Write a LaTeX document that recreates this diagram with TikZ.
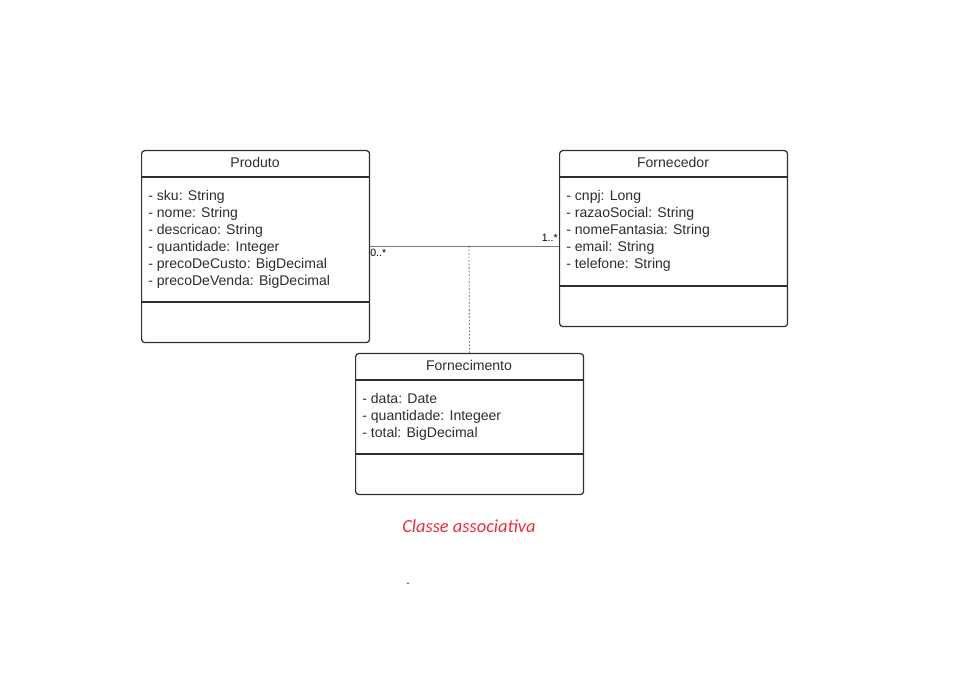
\documentclass[tikz,border=0pt]{standalone}
\usepackage{fontspec}
\setmainfont{Liberation Sans}
\newfontfamily\carlito{Carlito}
\usepackage{tikz}
\usetikzlibrary{calc}
\definecolor{umlgray}{RGB}{45,45,50}
\definecolor{linkgray}{RGB}{120,120,120}
\definecolor{notered}{RGB}{235,45,60}
\tikzset{
  classbox/.style={draw=umlgray, line width=0.7pt, rounded corners=1.8pt, anchor=north west, inner sep=0pt},
  classtitle/.style={text=umlgray, font=\fontsize{8}{9.6}\selectfont, inner sep=0pt},
  attrs/.style={text=umlgray, font=\fontsize{8}{9.65}\selectfont, align=left, anchor=north west, inner sep=0pt},
  divider/.style={draw=umlgray, line width=0.7pt},
  mult/.style={text=black, font=\fontsize{6}{7}\selectfont, inner sep=0pt}
}
\begin{document}
\begin{tikzpicture}[x=0.02cm,y=-0.02cm]
    \useasboundingbox (0,0) rectangle (961,695);

    % Produto
    \node[classbox, minimum width=4.56cm, minimum height=3.84cm] (produto) at (141,150) {};
    \node[classtitle] (produtoTitle) at (255,162) {Produto};
    \draw[divider] (141,177) -- (369,177);
    \draw[divider] (141,302) -- (369,302);
    \node[attrs] (produtoAttrs) at (148,190) {- sku: String\\- nome: String\\- descricao: String\\- quantidade: Integer\\- precoDeCusto: BigDecimal\\- precoDeVenda: BigDecimal};

    % Fornecedor
    \node[classbox, minimum width=4.56cm, minimum height=3.52cm] (fornecedor) at (559,150) {};
    \node[classtitle] (fornecedorTitle) at (673,162) {Fornecedor};
    \draw[divider] (559,177) -- (787,177);
    \draw[divider] (559,286) -- (787,286);
    \node[attrs] (fornecedorAttrs) at (566,190) {- cnpj: Long\\- razaoSocial: String\\- nomeFantasia: String\\- email: String\\- telefone: String};

    % Fornecimento (classe associativa)
    \node[classbox, minimum width=4.56cm, minimum height=2.82cm] (fornecimento) at (355,353) {};
    \node[classtitle] (fornecimentoTitle) at (469,365) {Fornecimento};
    \draw[divider] (355,380) -- (583,380);
    \draw[divider] (355,454) -- (583,454);
    \node[attrs] (fornecimentoAttrs) at (362,393) {- data: Date\\- quantidade: Integeer\\- total: BigDecimal};

    % Associacao
    \coordinate (assoc) at (469,246);
    \draw[linkgray, line width=0.5pt] (assoc -| produto.east) -- (assoc -| fornecedor.west);
    \draw[linkgray, line width=0.45pt, dash pattern=on 1pt off 1pt] (assoc) -- (fornecimento.north);
    \node[mult, anchor=north west] (multProduto) at (370,249) {0..*};
    \node[mult, anchor=south east] (multFornecedor) at (558,242) {1..*};

    % Nota
    \node[text=notered, font=\carlito\itshape\fontsize{10.5}{12}\selectfont] (nota) at (469,526) {Classe associativa};
    \node[font=\fontsize{7}{8}\selectfont, inner sep=0pt] (ponto) at (408,584) {.};
\end{tikzpicture}
\end{document}
